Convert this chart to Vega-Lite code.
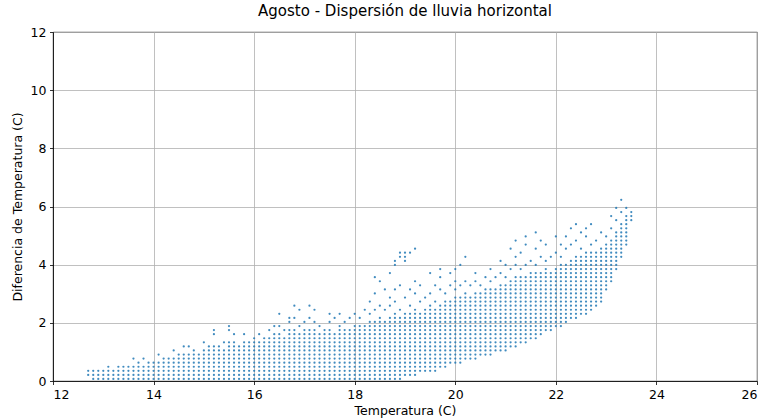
{
"$schema":"https://vega.github.io/schema/vega-lite/v6.json",
"width":704,"height":349,
"autosize":{"type":"none"},
"padding":{"left":53,"top":32,"right":10,"bottom":39},
"background":"white",
"title":{"text":"Agosto - Dispersión de lluvia horizontal","fontSize":15,"fontWeight":"normal","font":"DejaVu Sans","color":"black","offset":7,"anchor":"middle"},
"config":{
"view":{"stroke":"black","strokeWidth":0.8},
"axis":{"domainColor":"black","domainWidth":0.8,"tickColor":"black","tickWidth":0.8,"tickSize":3.5,"labelPadding":3.5,"labelFont":"DejaVu Sans","labelFontSize":12.5,"labelColor":"black","titleFont":"DejaVu Sans","titleFontSize":12.5,"titleFontWeight":"normal","titleColor":"black","grid":true,"gridColor":"#b0b0b0","gridWidth":0.8}
},
"data":{"values":[
{"x":12.7,"y":0.21},{"x":12.7,"y":0.35},
{"x":12.8,"y":0.07},{"x":12.8,"y":0.21},{"x":12.8,"y":0.35},
{"x":12.9,"y":0.07},{"x":12.9,"y":0.21},{"x":12.9,"y":0.35},
{"x":13.0,"y":0.07},{"x":13.0,"y":0.21},{"x":13.0,"y":0.35},
{"x":13.1,"y":0.07},{"x":13.1,"y":0.21},{"x":13.1,"y":0.35},{"x":13.1,"y":0.49},
{"x":13.2,"y":0.07},{"x":13.2,"y":0.21},{"x":13.2,"y":0.35},
{"x":13.3,"y":0.07},{"x":13.3,"y":0.21},{"x":13.3,"y":0.35},{"x":13.3,"y":0.49},
{"x":13.4,"y":0.07},{"x":13.4,"y":0.21},{"x":13.4,"y":0.35},{"x":13.4,"y":0.49},
{"x":13.5,"y":0.07},{"x":13.5,"y":0.21},{"x":13.5,"y":0.35},{"x":13.5,"y":0.49},
{"x":13.6,"y":0.07},{"x":13.6,"y":0.21},{"x":13.6,"y":0.35},{"x":13.6,"y":0.49},{"x":13.6,"y":0.77},
{"x":13.7,"y":0.07},{"x":13.7,"y":0.21},{"x":13.7,"y":0.35},{"x":13.7,"y":0.49},{"x":13.7,"y":0.63},
{"x":13.8,"y":0.07},{"x":13.8,"y":0.21},{"x":13.8,"y":0.35},{"x":13.8,"y":0.49},{"x":13.8,"y":0.77},
{"x":13.9,"y":0.07},{"x":13.9,"y":0.21},{"x":13.9,"y":0.35},{"x":13.9,"y":0.49},{"x":13.9,"y":0.63},
{"x":14.0,"y":0.07},{"x":14.0,"y":0.21},{"x":14.0,"y":0.35},{"x":14.0,"y":0.49},{"x":14.0,"y":0.63},
{"x":14.1,"y":0.07},{"x":14.1,"y":0.21},{"x":14.1,"y":0.35},{"x":14.1,"y":0.49},{"x":14.1,"y":0.63},{"x":14.1,"y":0.91},
{"x":14.2,"y":0.07},{"x":14.2,"y":0.21},{"x":14.2,"y":0.35},{"x":14.2,"y":0.49},{"x":14.2,"y":0.63},{"x":14.2,"y":0.77},
{"x":14.3,"y":0.07},{"x":14.3,"y":0.21},{"x":14.3,"y":0.35},{"x":14.3,"y":0.49},{"x":14.3,"y":0.63},{"x":14.3,"y":0.77},
{"x":14.4,"y":0.07},{"x":14.4,"y":0.21},{"x":14.4,"y":0.35},{"x":14.4,"y":0.49},{"x":14.4,"y":0.63},{"x":14.4,"y":0.77},{"x":14.4,"y":1.05},
{"x":14.5,"y":0.07},{"x":14.5,"y":0.21},{"x":14.5,"y":0.35},{"x":14.5,"y":0.49},{"x":14.5,"y":0.63},{"x":14.5,"y":0.77},{"x":14.5,"y":0.91},
{"x":14.6,"y":0.07},{"x":14.6,"y":0.21},{"x":14.6,"y":0.35},{"x":14.6,"y":0.49},{"x":14.6,"y":0.63},{"x":14.6,"y":0.77},{"x":14.6,"y":0.91},{"x":14.6,"y":1.19},
{"x":14.7,"y":0.07},{"x":14.7,"y":0.21},{"x":14.7,"y":0.35},{"x":14.7,"y":0.49},{"x":14.7,"y":0.63},{"x":14.7,"y":0.77},{"x":14.7,"y":0.91},{"x":14.7,"y":1.19},
{"x":14.8,"y":0.07},{"x":14.8,"y":0.21},{"x":14.8,"y":0.35},{"x":14.8,"y":0.49},{"x":14.8,"y":0.63},{"x":14.8,"y":0.77},{"x":14.8,"y":0.91},{"x":14.8,"y":1.05},
{"x":14.9,"y":0.07},{"x":14.9,"y":0.21},{"x":14.9,"y":0.35},{"x":14.9,"y":0.49},{"x":14.9,"y":0.63},{"x":14.9,"y":0.77},{"x":14.9,"y":0.91},
{"x":15.0,"y":0.07},{"x":15.0,"y":0.21},{"x":15.0,"y":0.35},{"x":15.0,"y":0.49},{"x":15.0,"y":0.63},{"x":15.0,"y":0.77},{"x":15.0,"y":0.91},{"x":15.0,"y":1.05},{"x":15.0,"y":1.33},
{"x":15.1,"y":0.07},{"x":15.1,"y":0.21},{"x":15.1,"y":0.35},{"x":15.1,"y":0.49},{"x":15.1,"y":0.63},{"x":15.1,"y":0.77},{"x":15.1,"y":0.91},{"x":15.1,"y":1.05},{"x":15.1,"y":1.19},
{"x":15.2,"y":0.07},{"x":15.2,"y":0.21},{"x":15.2,"y":0.35},{"x":15.2,"y":0.49},{"x":15.2,"y":0.63},{"x":15.2,"y":0.77},{"x":15.2,"y":0.91},{"x":15.2,"y":1.05},{"x":15.2,"y":1.19},{"x":15.2,"y":1.61},{"x":15.2,"y":1.75},
{"x":15.3,"y":0.07},{"x":15.3,"y":0.21},{"x":15.3,"y":0.35},{"x":15.3,"y":0.49},{"x":15.3,"y":0.63},{"x":15.3,"y":0.77},{"x":15.3,"y":0.91},{"x":15.3,"y":1.05},{"x":15.3,"y":1.19},
{"x":15.4,"y":0.07},{"x":15.4,"y":0.21},{"x":15.4,"y":0.35},{"x":15.4,"y":0.49},{"x":15.4,"y":0.63},{"x":15.4,"y":0.77},{"x":15.4,"y":0.91},{"x":15.4,"y":1.05},{"x":15.4,"y":1.33},
{"x":15.5,"y":0.07},{"x":15.5,"y":0.21},{"x":15.5,"y":0.35},{"x":15.5,"y":0.49},{"x":15.5,"y":0.63},{"x":15.5,"y":0.77},{"x":15.5,"y":0.91},{"x":15.5,"y":1.05},{"x":15.5,"y":1.19},{"x":15.5,"y":1.33},{"x":15.5,"y":1.75},{"x":15.5,"y":1.89},
{"x":15.6,"y":0.07},{"x":15.6,"y":0.21},{"x":15.6,"y":0.35},{"x":15.6,"y":0.49},{"x":15.6,"y":0.63},{"x":15.6,"y":0.77},{"x":15.6,"y":0.91},{"x":15.6,"y":1.05},{"x":15.6,"y":1.19},{"x":15.6,"y":1.33},{"x":15.6,"y":1.61},
{"x":15.7,"y":0.07},{"x":15.7,"y":0.21},{"x":15.7,"y":0.35},{"x":15.7,"y":0.49},{"x":15.7,"y":0.63},{"x":15.7,"y":0.77},{"x":15.7,"y":0.91},{"x":15.7,"y":1.05},{"x":15.7,"y":1.19},
{"x":15.8,"y":0.07},{"x":15.8,"y":0.21},{"x":15.8,"y":0.35},{"x":15.8,"y":0.49},{"x":15.8,"y":0.63},{"x":15.8,"y":0.77},{"x":15.8,"y":0.91},{"x":15.8,"y":1.05},{"x":15.8,"y":1.19},{"x":15.8,"y":1.33},{"x":15.8,"y":1.61},
{"x":15.9,"y":0.07},{"x":15.9,"y":0.21},{"x":15.9,"y":0.35},{"x":15.9,"y":0.49},{"x":15.9,"y":0.63},{"x":15.9,"y":0.77},{"x":15.9,"y":0.91},{"x":15.9,"y":1.05},{"x":15.9,"y":1.19},{"x":15.9,"y":1.33},
{"x":16.0,"y":0.07},{"x":16.0,"y":0.21},{"x":16.0,"y":0.35},{"x":16.0,"y":0.49},{"x":16.0,"y":0.63},{"x":16.0,"y":0.77},{"x":16.0,"y":0.91},{"x":16.0,"y":1.05},{"x":16.0,"y":1.19},{"x":16.0,"y":1.33},{"x":16.0,"y":1.47},
{"x":16.1,"y":0.07},{"x":16.1,"y":0.21},{"x":16.1,"y":0.35},{"x":16.1,"y":0.49},{"x":16.1,"y":0.63},{"x":16.1,"y":0.77},{"x":16.1,"y":0.91},{"x":16.1,"y":1.05},{"x":16.1,"y":1.19},{"x":16.1,"y":1.33},{"x":16.1,"y":1.61},
{"x":16.2,"y":0.07},{"x":16.2,"y":0.21},{"x":16.2,"y":0.35},{"x":16.2,"y":0.49},{"x":16.2,"y":0.63},{"x":16.2,"y":0.77},{"x":16.2,"y":0.91},{"x":16.2,"y":1.05},{"x":16.2,"y":1.19},{"x":16.2,"y":1.33},{"x":16.2,"y":1.47},
{"x":16.3,"y":0.07},{"x":16.3,"y":0.21},{"x":16.3,"y":0.35},{"x":16.3,"y":0.49},{"x":16.3,"y":0.63},{"x":16.3,"y":0.77},{"x":16.3,"y":0.91},{"x":16.3,"y":1.05},{"x":16.3,"y":1.19},{"x":16.3,"y":1.33},{"x":16.3,"y":1.47},{"x":16.3,"y":1.75},
{"x":16.4,"y":0.07},{"x":16.4,"y":0.21},{"x":16.4,"y":0.35},{"x":16.4,"y":0.49},{"x":16.4,"y":0.63},{"x":16.4,"y":0.77},{"x":16.4,"y":0.91},{"x":16.4,"y":1.05},{"x":16.4,"y":1.19},{"x":16.4,"y":1.33},{"x":16.4,"y":1.47},{"x":16.4,"y":1.61},{"x":16.4,"y":1.89},
{"x":16.5,"y":0.07},{"x":16.5,"y":0.21},{"x":16.5,"y":0.35},{"x":16.5,"y":0.49},{"x":16.5,"y":0.63},{"x":16.5,"y":0.77},{"x":16.5,"y":0.91},{"x":16.5,"y":1.05},{"x":16.5,"y":1.19},{"x":16.5,"y":1.33},{"x":16.5,"y":1.47},{"x":16.5,"y":1.61},{"x":16.5,"y":1.89},{"x":16.5,"y":2.31},
{"x":16.6,"y":0.07},{"x":16.6,"y":0.21},{"x":16.6,"y":0.35},{"x":16.6,"y":0.49},{"x":16.6,"y":0.63},{"x":16.6,"y":0.77},{"x":16.6,"y":0.91},{"x":16.6,"y":1.05},{"x":16.6,"y":1.19},{"x":16.6,"y":1.33},{"x":16.6,"y":1.47},{"x":16.6,"y":1.75},
{"x":16.7,"y":0.07},{"x":16.7,"y":0.21},{"x":16.7,"y":0.35},{"x":16.7,"y":0.49},{"x":16.7,"y":0.63},{"x":16.7,"y":0.77},{"x":16.7,"y":0.91},{"x":16.7,"y":1.05},{"x":16.7,"y":1.19},{"x":16.7,"y":1.33},{"x":16.7,"y":1.47},{"x":16.7,"y":1.61},{"x":16.7,"y":1.75},{"x":16.7,"y":2.03},{"x":16.7,"y":2.17},
{"x":16.8,"y":0.07},{"x":16.8,"y":0.21},{"x":16.8,"y":0.35},{"x":16.8,"y":0.49},{"x":16.8,"y":0.63},{"x":16.8,"y":0.77},{"x":16.8,"y":0.91},{"x":16.8,"y":1.05},{"x":16.8,"y":1.19},{"x":16.8,"y":1.33},{"x":16.8,"y":1.47},{"x":16.8,"y":1.61},{"x":16.8,"y":1.75},{"x":16.8,"y":2.17},{"x":16.8,"y":2.59},
{"x":16.9,"y":0.07},{"x":16.9,"y":0.21},{"x":16.9,"y":0.35},{"x":16.9,"y":0.49},{"x":16.9,"y":0.63},{"x":16.9,"y":0.77},{"x":16.9,"y":0.91},{"x":16.9,"y":1.05},{"x":16.9,"y":1.19},{"x":16.9,"y":1.33},{"x":16.9,"y":1.47},{"x":16.9,"y":1.61},{"x":16.9,"y":1.89},{"x":16.9,"y":2.45},
{"x":17.0,"y":0.07},{"x":17.0,"y":0.21},{"x":17.0,"y":0.35},{"x":17.0,"y":0.49},{"x":17.0,"y":0.63},{"x":17.0,"y":0.77},{"x":17.0,"y":0.91},{"x":17.0,"y":1.05},{"x":17.0,"y":1.19},{"x":17.0,"y":1.33},{"x":17.0,"y":1.47},{"x":17.0,"y":1.61},{"x":17.0,"y":1.75},{"x":17.0,"y":2.03},
{"x":17.1,"y":0.07},{"x":17.1,"y":0.21},{"x":17.1,"y":0.35},{"x":17.1,"y":0.49},{"x":17.1,"y":0.63},{"x":17.1,"y":0.77},{"x":17.1,"y":0.91},{"x":17.1,"y":1.05},{"x":17.1,"y":1.19},{"x":17.1,"y":1.33},{"x":17.1,"y":1.47},{"x":17.1,"y":1.61},{"x":17.1,"y":1.75},{"x":17.1,"y":2.17},{"x":17.1,"y":2.59},
{"x":17.2,"y":0.07},{"x":17.2,"y":0.21},{"x":17.2,"y":0.35},{"x":17.2,"y":0.49},{"x":17.2,"y":0.63},{"x":17.2,"y":0.77},{"x":17.2,"y":0.91},{"x":17.2,"y":1.05},{"x":17.2,"y":1.19},{"x":17.2,"y":1.33},{"x":17.2,"y":1.47},{"x":17.2,"y":1.61},{"x":17.2,"y":1.75},{"x":17.2,"y":2.03},{"x":17.2,"y":2.45},
{"x":17.3,"y":0.07},{"x":17.3,"y":0.21},{"x":17.3,"y":0.35},{"x":17.3,"y":0.49},{"x":17.3,"y":0.63},{"x":17.3,"y":0.77},{"x":17.3,"y":0.91},{"x":17.3,"y":1.05},{"x":17.3,"y":1.19},{"x":17.3,"y":1.33},{"x":17.3,"y":1.47},{"x":17.3,"y":1.61},{"x":17.3,"y":1.89},
{"x":17.4,"y":0.07},{"x":17.4,"y":0.21},{"x":17.4,"y":0.35},{"x":17.4,"y":0.49},{"x":17.4,"y":0.63},{"x":17.4,"y":0.77},{"x":17.4,"y":0.91},{"x":17.4,"y":1.05},{"x":17.4,"y":1.19},{"x":17.4,"y":1.33},{"x":17.4,"y":1.47},{"x":17.4,"y":1.61},{"x":17.4,"y":1.75},
{"x":17.5,"y":0.07},{"x":17.5,"y":0.21},{"x":17.5,"y":0.35},{"x":17.5,"y":0.49},{"x":17.5,"y":0.63},{"x":17.5,"y":0.77},{"x":17.5,"y":0.91},{"x":17.5,"y":1.05},{"x":17.5,"y":1.19},{"x":17.5,"y":1.33},{"x":17.5,"y":1.47},{"x":17.5,"y":1.61},{"x":17.5,"y":1.75},{"x":17.5,"y":2.03},{"x":17.5,"y":2.31},
{"x":17.6,"y":0.07},{"x":17.6,"y":0.21},{"x":17.6,"y":0.35},{"x":17.6,"y":0.49},{"x":17.6,"y":0.63},{"x":17.6,"y":0.77},{"x":17.6,"y":0.91},{"x":17.6,"y":1.05},{"x":17.6,"y":1.19},{"x":17.6,"y":1.33},{"x":17.6,"y":1.47},{"x":17.6,"y":1.61},{"x":17.6,"y":2.17},
{"x":17.7,"y":0.07},{"x":17.7,"y":0.21},{"x":17.7,"y":0.35},{"x":17.7,"y":0.49},{"x":17.7,"y":0.63},{"x":17.7,"y":0.77},{"x":17.7,"y":0.91},{"x":17.7,"y":1.05},{"x":17.7,"y":1.19},{"x":17.7,"y":1.33},{"x":17.7,"y":1.47},{"x":17.7,"y":1.61},{"x":17.7,"y":1.75},{"x":17.7,"y":1.89},{"x":17.7,"y":2.31},
{"x":17.8,"y":0.07},{"x":17.8,"y":0.21},{"x":17.8,"y":0.35},{"x":17.8,"y":0.49},{"x":17.8,"y":0.63},{"x":17.8,"y":0.77},{"x":17.8,"y":0.91},{"x":17.8,"y":1.05},{"x":17.8,"y":1.19},{"x":17.8,"y":1.33},{"x":17.8,"y":1.47},{"x":17.8,"y":1.61},{"x":17.8,"y":1.75},{"x":17.8,"y":2.03},
{"x":17.9,"y":0.07},{"x":17.9,"y":0.21},{"x":17.9,"y":0.35},{"x":17.9,"y":0.49},{"x":17.9,"y":0.63},{"x":17.9,"y":0.77},{"x":17.9,"y":0.91},{"x":17.9,"y":1.05},{"x":17.9,"y":1.19},{"x":17.9,"y":1.33},{"x":17.9,"y":1.47},{"x":17.9,"y":1.61},{"x":17.9,"y":1.75},{"x":17.9,"y":2.17},
{"x":18.0,"y":0.07},{"x":18.0,"y":0.21},{"x":18.0,"y":0.35},{"x":18.0,"y":0.49},{"x":18.0,"y":0.63},{"x":18.0,"y":0.77},{"x":18.0,"y":0.91},{"x":18.0,"y":1.05},{"x":18.0,"y":1.19},{"x":18.0,"y":1.33},{"x":18.0,"y":1.47},{"x":18.0,"y":1.61},{"x":18.0,"y":1.75},{"x":18.0,"y":1.89},{"x":18.0,"y":2.31},
{"x":18.1,"y":0.07},{"x":18.1,"y":0.21},{"x":18.1,"y":0.35},{"x":18.1,"y":0.49},{"x":18.1,"y":0.63},{"x":18.1,"y":0.77},{"x":18.1,"y":0.91},{"x":18.1,"y":1.05},{"x":18.1,"y":1.19},{"x":18.1,"y":1.33},{"x":18.1,"y":1.47},{"x":18.1,"y":1.61},{"x":18.1,"y":1.75},{"x":18.1,"y":1.89},{"x":18.1,"y":2.17},
{"x":18.2,"y":0.07},{"x":18.2,"y":0.21},{"x":18.2,"y":0.35},{"x":18.2,"y":0.49},{"x":18.2,"y":0.63},{"x":18.2,"y":0.77},{"x":18.2,"y":0.91},{"x":18.2,"y":1.05},{"x":18.2,"y":1.19},{"x":18.2,"y":1.33},{"x":18.2,"y":1.47},{"x":18.2,"y":1.61},{"x":18.2,"y":1.75},{"x":18.2,"y":1.89},{"x":18.2,"y":2.45},
{"x":18.3,"y":0.07},{"x":18.3,"y":0.21},{"x":18.3,"y":0.35},{"x":18.3,"y":0.49},{"x":18.3,"y":0.63},{"x":18.3,"y":0.77},{"x":18.3,"y":0.91},{"x":18.3,"y":1.05},{"x":18.3,"y":1.19},{"x":18.3,"y":1.33},{"x":18.3,"y":1.47},{"x":18.3,"y":1.61},{"x":18.3,"y":1.75},{"x":18.3,"y":1.89},{"x":18.3,"y":2.03},{"x":18.3,"y":2.31},{"x":18.3,"y":2.73},
{"x":18.4,"y":0.07},{"x":18.4,"y":0.21},{"x":18.4,"y":0.35},{"x":18.4,"y":0.49},{"x":18.4,"y":0.63},{"x":18.4,"y":0.77},{"x":18.4,"y":0.91},{"x":18.4,"y":1.05},{"x":18.4,"y":1.19},{"x":18.4,"y":1.33},{"x":18.4,"y":1.47},{"x":18.4,"y":1.61},{"x":18.4,"y":1.75},{"x":18.4,"y":1.89},{"x":18.4,"y":2.03},{"x":18.4,"y":2.45},{"x":18.4,"y":3.01},{"x":18.4,"y":3.57},
{"x":18.5,"y":0.07},{"x":18.5,"y":0.21},{"x":18.5,"y":0.35},{"x":18.5,"y":0.49},{"x":18.5,"y":0.63},{"x":18.5,"y":0.77},{"x":18.5,"y":0.91},{"x":18.5,"y":1.05},{"x":18.5,"y":1.19},{"x":18.5,"y":1.33},{"x":18.5,"y":1.47},{"x":18.5,"y":1.61},{"x":18.5,"y":1.75},{"x":18.5,"y":1.89},{"x":18.5,"y":2.03},{"x":18.5,"y":2.17},{"x":18.5,"y":2.59},{"x":18.5,"y":3.43},
{"x":18.6,"y":0.07},{"x":18.6,"y":0.21},{"x":18.6,"y":0.35},{"x":18.6,"y":0.49},{"x":18.6,"y":0.63},{"x":18.6,"y":0.77},{"x":18.6,"y":0.91},{"x":18.6,"y":1.05},{"x":18.6,"y":1.19},{"x":18.6,"y":1.33},{"x":18.6,"y":1.47},{"x":18.6,"y":1.61},{"x":18.6,"y":1.75},{"x":18.6,"y":1.89},{"x":18.6,"y":2.03},{"x":18.6,"y":2.45},{"x":18.6,"y":3.15},
{"x":18.7,"y":0.07},{"x":18.7,"y":0.21},{"x":18.7,"y":0.35},{"x":18.7,"y":0.49},{"x":18.7,"y":0.63},{"x":18.7,"y":0.77},{"x":18.7,"y":0.91},{"x":18.7,"y":1.05},{"x":18.7,"y":1.19},{"x":18.7,"y":1.33},{"x":18.7,"y":1.47},{"x":18.7,"y":1.61},{"x":18.7,"y":1.75},{"x":18.7,"y":1.89},{"x":18.7,"y":2.03},{"x":18.7,"y":2.17},{"x":18.7,"y":2.59},{"x":18.7,"y":2.87},{"x":18.7,"y":3.71},
{"x":18.8,"y":0.07},{"x":18.8,"y":0.21},{"x":18.8,"y":0.35},{"x":18.8,"y":0.49},{"x":18.8,"y":0.63},{"x":18.8,"y":0.77},{"x":18.8,"y":0.91},{"x":18.8,"y":1.05},{"x":18.8,"y":1.19},{"x":18.8,"y":1.33},{"x":18.8,"y":1.47},{"x":18.8,"y":1.61},{"x":18.8,"y":1.75},{"x":18.8,"y":1.89},{"x":18.8,"y":2.03},{"x":18.8,"y":2.17},{"x":18.8,"y":2.31},{"x":18.8,"y":2.73},{"x":18.8,"y":3.15},{"x":18.8,"y":3.99},{"x":18.8,"y":4.13},
{"x":18.9,"y":0.07},{"x":18.9,"y":0.21},{"x":18.9,"y":0.35},{"x":18.9,"y":0.49},{"x":18.9,"y":0.63},{"x":18.9,"y":0.77},{"x":18.9,"y":0.91},{"x":18.9,"y":1.05},{"x":18.9,"y":1.19},{"x":18.9,"y":1.33},{"x":18.9,"y":1.47},{"x":18.9,"y":1.61},{"x":18.9,"y":1.75},{"x":18.9,"y":1.89},{"x":18.9,"y":2.03},{"x":18.9,"y":2.17},{"x":18.9,"y":2.45},{"x":18.9,"y":3.29},{"x":18.9,"y":4.27},{"x":18.9,"y":4.41},
{"x":19.0,"y":0.21},{"x":19.0,"y":0.35},{"x":19.0,"y":0.49},{"x":19.0,"y":0.63},{"x":19.0,"y":0.77},{"x":19.0,"y":0.91},{"x":19.0,"y":1.05},{"x":19.0,"y":1.19},{"x":19.0,"y":1.33},{"x":19.0,"y":1.47},{"x":19.0,"y":1.61},{"x":19.0,"y":1.75},{"x":19.0,"y":1.89},{"x":19.0,"y":2.03},{"x":19.0,"y":2.17},{"x":19.0,"y":2.31},{"x":19.0,"y":2.87},{"x":19.0,"y":4.13},{"x":19.0,"y":4.27},{"x":19.0,"y":4.41},
{"x":19.1,"y":0.21},{"x":19.1,"y":0.35},{"x":19.1,"y":0.49},{"x":19.1,"y":0.63},{"x":19.1,"y":0.77},{"x":19.1,"y":0.91},{"x":19.1,"y":1.05},{"x":19.1,"y":1.19},{"x":19.1,"y":1.33},{"x":19.1,"y":1.47},{"x":19.1,"y":1.61},{"x":19.1,"y":1.75},{"x":19.1,"y":1.89},{"x":19.1,"y":2.03},{"x":19.1,"y":2.17},{"x":19.1,"y":2.31},{"x":19.1,"y":2.59},{"x":19.1,"y":3.15},{"x":19.1,"y":4.41},
{"x":19.2,"y":0.21},{"x":19.2,"y":0.35},{"x":19.2,"y":0.49},{"x":19.2,"y":0.63},{"x":19.2,"y":0.77},{"x":19.2,"y":0.91},{"x":19.2,"y":1.05},{"x":19.2,"y":1.19},{"x":19.2,"y":1.33},{"x":19.2,"y":1.47},{"x":19.2,"y":1.61},{"x":19.2,"y":1.75},{"x":19.2,"y":1.89},{"x":19.2,"y":2.03},{"x":19.2,"y":2.17},{"x":19.2,"y":2.31},{"x":19.2,"y":2.45},{"x":19.2,"y":3.01},{"x":19.2,"y":3.43},{"x":19.2,"y":4.55},
{"x":19.3,"y":0.35},{"x":19.3,"y":0.49},{"x":19.3,"y":0.63},{"x":19.3,"y":0.77},{"x":19.3,"y":0.91},{"x":19.3,"y":1.05},{"x":19.3,"y":1.19},{"x":19.3,"y":1.33},{"x":19.3,"y":1.47},{"x":19.3,"y":1.61},{"x":19.3,"y":1.75},{"x":19.3,"y":1.89},{"x":19.3,"y":2.03},{"x":19.3,"y":2.17},{"x":19.3,"y":2.31},{"x":19.3,"y":2.73},{"x":19.3,"y":3.29},
{"x":19.4,"y":0.35},{"x":19.4,"y":0.49},{"x":19.4,"y":0.63},{"x":19.4,"y":0.77},{"x":19.4,"y":0.91},{"x":19.4,"y":1.05},{"x":19.4,"y":1.19},{"x":19.4,"y":1.33},{"x":19.4,"y":1.47},{"x":19.4,"y":1.61},{"x":19.4,"y":1.75},{"x":19.4,"y":1.89},{"x":19.4,"y":2.03},{"x":19.4,"y":2.17},{"x":19.4,"y":2.31},{"x":19.4,"y":2.45},{"x":19.4,"y":2.87},
{"x":19.5,"y":0.35},{"x":19.5,"y":0.49},{"x":19.5,"y":0.63},{"x":19.5,"y":0.77},{"x":19.5,"y":0.91},{"x":19.5,"y":1.05},{"x":19.5,"y":1.19},{"x":19.5,"y":1.33},{"x":19.5,"y":1.47},{"x":19.5,"y":1.61},{"x":19.5,"y":1.75},{"x":19.5,"y":1.89},{"x":19.5,"y":2.03},{"x":19.5,"y":2.17},{"x":19.5,"y":2.31},{"x":19.5,"y":2.45},{"x":19.5,"y":2.59},{"x":19.5,"y":3.01},{"x":19.5,"y":3.71},
{"x":19.6,"y":0.35},{"x":19.6,"y":0.49},{"x":19.6,"y":0.63},{"x":19.6,"y":0.77},{"x":19.6,"y":0.91},{"x":19.6,"y":1.05},{"x":19.6,"y":1.19},{"x":19.6,"y":1.33},{"x":19.6,"y":1.47},{"x":19.6,"y":1.61},{"x":19.6,"y":1.75},{"x":19.6,"y":1.89},{"x":19.6,"y":2.03},{"x":19.6,"y":2.17},{"x":19.6,"y":2.31},{"x":19.6,"y":2.45},{"x":19.6,"y":2.73},{"x":19.6,"y":3.29},
{"x":19.7,"y":0.49},{"x":19.7,"y":0.63},{"x":19.7,"y":0.77},{"x":19.7,"y":0.91},{"x":19.7,"y":1.05},{"x":19.7,"y":1.19},{"x":19.7,"y":1.33},{"x":19.7,"y":1.47},{"x":19.7,"y":1.61},{"x":19.7,"y":1.75},{"x":19.7,"y":1.89},{"x":19.7,"y":2.03},{"x":19.7,"y":2.17},{"x":19.7,"y":2.31},{"x":19.7,"y":2.45},{"x":19.7,"y":2.59},{"x":19.7,"y":3.15},{"x":19.7,"y":3.57},{"x":19.7,"y":3.85},
{"x":19.8,"y":0.49},{"x":19.8,"y":0.63},{"x":19.8,"y":0.77},{"x":19.8,"y":0.91},{"x":19.8,"y":1.05},{"x":19.8,"y":1.19},{"x":19.8,"y":1.33},{"x":19.8,"y":1.47},{"x":19.8,"y":1.61},{"x":19.8,"y":1.75},{"x":19.8,"y":1.89},{"x":19.8,"y":2.03},{"x":19.8,"y":2.17},{"x":19.8,"y":2.31},{"x":19.8,"y":2.45},{"x":19.8,"y":2.59},{"x":19.8,"y":2.73},{"x":19.8,"y":3.01},
{"x":19.9,"y":0.63},{"x":19.9,"y":0.77},{"x":19.9,"y":0.91},{"x":19.9,"y":1.05},{"x":19.9,"y":1.19},{"x":19.9,"y":1.33},{"x":19.9,"y":1.47},{"x":19.9,"y":1.61},{"x":19.9,"y":1.75},{"x":19.9,"y":1.89},{"x":19.9,"y":2.03},{"x":19.9,"y":2.17},{"x":19.9,"y":2.31},{"x":19.9,"y":2.45},{"x":19.9,"y":2.59},{"x":19.9,"y":2.73},{"x":19.9,"y":3.29},{"x":19.9,"y":3.71},
{"x":20.0,"y":0.63},{"x":20.0,"y":0.77},{"x":20.0,"y":0.91},{"x":20.0,"y":1.05},{"x":20.0,"y":1.19},{"x":20.0,"y":1.33},{"x":20.0,"y":1.47},{"x":20.0,"y":1.61},{"x":20.0,"y":1.75},{"x":20.0,"y":1.89},{"x":20.0,"y":2.03},{"x":20.0,"y":2.17},{"x":20.0,"y":2.31},{"x":20.0,"y":2.45},{"x":20.0,"y":2.59},{"x":20.0,"y":2.73},{"x":20.0,"y":2.87},{"x":20.0,"y":3.15},{"x":20.0,"y":3.43},{"x":20.0,"y":3.85},
{"x":20.1,"y":0.63},{"x":20.1,"y":0.77},{"x":20.1,"y":0.91},{"x":20.1,"y":1.05},{"x":20.1,"y":1.19},{"x":20.1,"y":1.33},{"x":20.1,"y":1.47},{"x":20.1,"y":1.61},{"x":20.1,"y":1.75},{"x":20.1,"y":1.89},{"x":20.1,"y":2.03},{"x":20.1,"y":2.17},{"x":20.1,"y":2.31},{"x":20.1,"y":2.45},{"x":20.1,"y":2.59},{"x":20.1,"y":2.73},{"x":20.1,"y":2.87},{"x":20.1,"y":3.29},{"x":20.1,"y":3.99},
{"x":20.2,"y":0.77},{"x":20.2,"y":0.91},{"x":20.2,"y":1.05},{"x":20.2,"y":1.19},{"x":20.2,"y":1.33},{"x":20.2,"y":1.47},{"x":20.2,"y":1.61},{"x":20.2,"y":1.75},{"x":20.2,"y":1.89},{"x":20.2,"y":2.03},{"x":20.2,"y":2.17},{"x":20.2,"y":2.31},{"x":20.2,"y":2.45},{"x":20.2,"y":2.59},{"x":20.2,"y":2.73},{"x":20.2,"y":2.87},{"x":20.2,"y":3.01},{"x":20.2,"y":3.43},{"x":20.2,"y":4.27},
{"x":20.3,"y":0.77},{"x":20.3,"y":0.91},{"x":20.3,"y":1.05},{"x":20.3,"y":1.19},{"x":20.3,"y":1.33},{"x":20.3,"y":1.47},{"x":20.3,"y":1.61},{"x":20.3,"y":1.75},{"x":20.3,"y":1.89},{"x":20.3,"y":2.03},{"x":20.3,"y":2.17},{"x":20.3,"y":2.31},{"x":20.3,"y":2.45},{"x":20.3,"y":2.59},{"x":20.3,"y":2.73},{"x":20.3,"y":2.87},{"x":20.3,"y":3.29},
{"x":20.4,"y":0.77},{"x":20.4,"y":0.91},{"x":20.4,"y":1.05},{"x":20.4,"y":1.19},{"x":20.4,"y":1.33},{"x":20.4,"y":1.47},{"x":20.4,"y":1.61},{"x":20.4,"y":1.75},{"x":20.4,"y":1.89},{"x":20.4,"y":2.03},{"x":20.4,"y":2.17},{"x":20.4,"y":2.31},{"x":20.4,"y":2.45},{"x":20.4,"y":2.59},{"x":20.4,"y":2.73},{"x":20.4,"y":2.87},{"x":20.4,"y":3.01},{"x":20.4,"y":3.43},{"x":20.4,"y":3.71},
{"x":20.5,"y":0.91},{"x":20.5,"y":1.05},{"x":20.5,"y":1.19},{"x":20.5,"y":1.33},{"x":20.5,"y":1.47},{"x":20.5,"y":1.61},{"x":20.5,"y":1.75},{"x":20.5,"y":1.89},{"x":20.5,"y":2.03},{"x":20.5,"y":2.17},{"x":20.5,"y":2.31},{"x":20.5,"y":2.45},{"x":20.5,"y":2.59},{"x":20.5,"y":2.73},{"x":20.5,"y":2.87},{"x":20.5,"y":3.01},{"x":20.5,"y":3.29},
{"x":20.6,"y":0.91},{"x":20.6,"y":1.05},{"x":20.6,"y":1.19},{"x":20.6,"y":1.33},{"x":20.6,"y":1.47},{"x":20.6,"y":1.61},{"x":20.6,"y":1.75},{"x":20.6,"y":1.89},{"x":20.6,"y":2.03},{"x":20.6,"y":2.17},{"x":20.6,"y":2.31},{"x":20.6,"y":2.45},{"x":20.6,"y":2.59},{"x":20.6,"y":2.73},{"x":20.6,"y":2.87},{"x":20.6,"y":3.01},{"x":20.6,"y":3.15},{"x":20.6,"y":3.57},
{"x":20.7,"y":0.91},{"x":20.7,"y":1.05},{"x":20.7,"y":1.19},{"x":20.7,"y":1.33},{"x":20.7,"y":1.47},{"x":20.7,"y":1.61},{"x":20.7,"y":1.75},{"x":20.7,"y":1.89},{"x":20.7,"y":2.03},{"x":20.7,"y":2.17},{"x":20.7,"y":2.31},{"x":20.7,"y":2.45},{"x":20.7,"y":2.59},{"x":20.7,"y":2.73},{"x":20.7,"y":2.87},{"x":20.7,"y":3.01},{"x":20.7,"y":3.15},{"x":20.7,"y":3.43},{"x":20.7,"y":3.85},
{"x":20.8,"y":1.05},{"x":20.8,"y":1.19},{"x":20.8,"y":1.33},{"x":20.8,"y":1.47},{"x":20.8,"y":1.61},{"x":20.8,"y":1.75},{"x":20.8,"y":1.89},{"x":20.8,"y":2.03},{"x":20.8,"y":2.17},{"x":20.8,"y":2.31},{"x":20.8,"y":2.45},{"x":20.8,"y":2.59},{"x":20.8,"y":2.73},{"x":20.8,"y":2.87},{"x":20.8,"y":3.01},{"x":20.8,"y":3.15},{"x":20.8,"y":3.57},
{"x":20.9,"y":1.05},{"x":20.9,"y":1.19},{"x":20.9,"y":1.33},{"x":20.9,"y":1.47},{"x":20.9,"y":1.61},{"x":20.9,"y":1.75},{"x":20.9,"y":1.89},{"x":20.9,"y":2.03},{"x":20.9,"y":2.17},{"x":20.9,"y":2.31},{"x":20.9,"y":2.45},{"x":20.9,"y":2.59},{"x":20.9,"y":2.73},{"x":20.9,"y":2.87},{"x":20.9,"y":3.01},{"x":20.9,"y":3.15},{"x":20.9,"y":3.29},{"x":20.9,"y":3.71},{"x":20.9,"y":4.13},
{"x":21.0,"y":1.05},{"x":21.0,"y":1.19},{"x":21.0,"y":1.33},{"x":21.0,"y":1.47},{"x":21.0,"y":1.61},{"x":21.0,"y":1.75},{"x":21.0,"y":1.89},{"x":21.0,"y":2.03},{"x":21.0,"y":2.17},{"x":21.0,"y":2.31},{"x":21.0,"y":2.45},{"x":21.0,"y":2.59},{"x":21.0,"y":2.73},{"x":21.0,"y":2.87},{"x":21.0,"y":3.01},{"x":21.0,"y":3.15},{"x":21.0,"y":3.29},{"x":21.0,"y":3.57},{"x":21.0,"y":3.99},
{"x":21.1,"y":1.19},{"x":21.1,"y":1.33},{"x":21.1,"y":1.47},{"x":21.1,"y":1.61},{"x":21.1,"y":1.75},{"x":21.1,"y":1.89},{"x":21.1,"y":2.03},{"x":21.1,"y":2.17},{"x":21.1,"y":2.31},{"x":21.1,"y":2.45},{"x":21.1,"y":2.59},{"x":21.1,"y":2.73},{"x":21.1,"y":2.87},{"x":21.1,"y":3.01},{"x":21.1,"y":3.15},{"x":21.1,"y":3.29},{"x":21.1,"y":3.43},{"x":21.1,"y":3.85},{"x":21.1,"y":4.55},
{"x":21.2,"y":1.19},{"x":21.2,"y":1.33},{"x":21.2,"y":1.47},{"x":21.2,"y":1.61},{"x":21.2,"y":1.75},{"x":21.2,"y":1.89},{"x":21.2,"y":2.03},{"x":21.2,"y":2.17},{"x":21.2,"y":2.31},{"x":21.2,"y":2.45},{"x":21.2,"y":2.59},{"x":21.2,"y":2.73},{"x":21.2,"y":2.87},{"x":21.2,"y":3.01},{"x":21.2,"y":3.15},{"x":21.2,"y":3.29},{"x":21.2,"y":3.43},{"x":21.2,"y":3.57},{"x":21.2,"y":3.99},{"x":21.2,"y":4.27},{"x":21.2,"y":4.83},
{"x":21.3,"y":1.33},{"x":21.3,"y":1.47},{"x":21.3,"y":1.61},{"x":21.3,"y":1.75},{"x":21.3,"y":1.89},{"x":21.3,"y":2.03},{"x":21.3,"y":2.17},{"x":21.3,"y":2.31},{"x":21.3,"y":2.45},{"x":21.3,"y":2.59},{"x":21.3,"y":2.73},{"x":21.3,"y":2.87},{"x":21.3,"y":3.01},{"x":21.3,"y":3.15},{"x":21.3,"y":3.29},{"x":21.3,"y":3.43},{"x":21.3,"y":3.57},{"x":21.3,"y":3.85},{"x":21.3,"y":4.41},
{"x":21.4,"y":1.33},{"x":21.4,"y":1.47},{"x":21.4,"y":1.61},{"x":21.4,"y":1.75},{"x":21.4,"y":1.89},{"x":21.4,"y":2.03},{"x":21.4,"y":2.17},{"x":21.4,"y":2.31},{"x":21.4,"y":2.45},{"x":21.4,"y":2.59},{"x":21.4,"y":2.73},{"x":21.4,"y":2.87},{"x":21.4,"y":3.01},{"x":21.4,"y":3.15},{"x":21.4,"y":3.29},{"x":21.4,"y":3.43},{"x":21.4,"y":3.57},{"x":21.4,"y":3.99},{"x":21.4,"y":4.69},{"x":21.4,"y":4.97},
{"x":21.5,"y":1.47},{"x":21.5,"y":1.61},{"x":21.5,"y":1.75},{"x":21.5,"y":1.89},{"x":21.5,"y":2.03},{"x":21.5,"y":2.17},{"x":21.5,"y":2.31},{"x":21.5,"y":2.45},{"x":21.5,"y":2.59},{"x":21.5,"y":2.73},{"x":21.5,"y":2.87},{"x":21.5,"y":3.01},{"x":21.5,"y":3.15},{"x":21.5,"y":3.29},{"x":21.5,"y":3.43},{"x":21.5,"y":3.57},{"x":21.5,"y":3.71},{"x":21.5,"y":4.13},
{"x":21.6,"y":1.47},{"x":21.6,"y":1.61},{"x":21.6,"y":1.75},{"x":21.6,"y":1.89},{"x":21.6,"y":2.03},{"x":21.6,"y":2.17},{"x":21.6,"y":2.31},{"x":21.6,"y":2.45},{"x":21.6,"y":2.59},{"x":21.6,"y":2.73},{"x":21.6,"y":2.87},{"x":21.6,"y":3.01},{"x":21.6,"y":3.15},{"x":21.6,"y":3.29},{"x":21.6,"y":3.43},{"x":21.6,"y":3.57},{"x":21.6,"y":3.71},{"x":21.6,"y":3.99},{"x":21.6,"y":4.55},{"x":21.6,"y":5.11},
{"x":21.7,"y":1.61},{"x":21.7,"y":1.75},{"x":21.7,"y":1.89},{"x":21.7,"y":2.03},{"x":21.7,"y":2.17},{"x":21.7,"y":2.31},{"x":21.7,"y":2.45},{"x":21.7,"y":2.59},{"x":21.7,"y":2.73},{"x":21.7,"y":2.87},{"x":21.7,"y":3.01},{"x":21.7,"y":3.15},{"x":21.7,"y":3.29},{"x":21.7,"y":3.43},{"x":21.7,"y":3.57},{"x":21.7,"y":3.71},{"x":21.7,"y":4.27},{"x":21.7,"y":4.83},
{"x":21.8,"y":1.75},{"x":21.8,"y":1.89},{"x":21.8,"y":2.03},{"x":21.8,"y":2.17},{"x":21.8,"y":2.31},{"x":21.8,"y":2.45},{"x":21.8,"y":2.59},{"x":21.8,"y":2.73},{"x":21.8,"y":2.87},{"x":21.8,"y":3.01},{"x":21.8,"y":3.15},{"x":21.8,"y":3.29},{"x":21.8,"y":3.43},{"x":21.8,"y":3.57},{"x":21.8,"y":3.71},{"x":21.8,"y":3.85},{"x":21.8,"y":4.13},{"x":21.8,"y":4.69},
{"x":21.9,"y":1.75},{"x":21.9,"y":1.89},{"x":21.9,"y":2.03},{"x":21.9,"y":2.17},{"x":21.9,"y":2.31},{"x":21.9,"y":2.45},{"x":21.9,"y":2.59},{"x":21.9,"y":2.73},{"x":21.9,"y":2.87},{"x":21.9,"y":3.01},{"x":21.9,"y":3.15},{"x":21.9,"y":3.29},{"x":21.9,"y":3.43},{"x":21.9,"y":3.57},{"x":21.9,"y":3.71},{"x":21.9,"y":4.27},
{"x":22.0,"y":1.89},{"x":22.0,"y":2.03},{"x":22.0,"y":2.17},{"x":22.0,"y":2.31},{"x":22.0,"y":2.45},{"x":22.0,"y":2.59},{"x":22.0,"y":2.73},{"x":22.0,"y":2.87},{"x":22.0,"y":3.01},{"x":22.0,"y":3.15},{"x":22.0,"y":3.29},{"x":22.0,"y":3.43},{"x":22.0,"y":3.57},{"x":22.0,"y":3.71},{"x":22.0,"y":3.85},{"x":22.0,"y":4.41},{"x":22.0,"y":4.97},
{"x":22.1,"y":1.89},{"x":22.1,"y":2.03},{"x":22.1,"y":2.17},{"x":22.1,"y":2.31},{"x":22.1,"y":2.45},{"x":22.1,"y":2.59},{"x":22.1,"y":2.73},{"x":22.1,"y":2.87},{"x":22.1,"y":3.01},{"x":22.1,"y":3.15},{"x":22.1,"y":3.29},{"x":22.1,"y":3.43},{"x":22.1,"y":3.57},{"x":22.1,"y":3.71},{"x":22.1,"y":3.85},{"x":22.1,"y":3.99},{"x":22.1,"y":4.27},{"x":22.1,"y":4.69},
{"x":22.2,"y":2.03},{"x":22.2,"y":2.17},{"x":22.2,"y":2.31},{"x":22.2,"y":2.45},{"x":22.2,"y":2.59},{"x":22.2,"y":2.73},{"x":22.2,"y":2.87},{"x":22.2,"y":3.01},{"x":22.2,"y":3.15},{"x":22.2,"y":3.29},{"x":22.2,"y":3.43},{"x":22.2,"y":3.57},{"x":22.2,"y":3.71},{"x":22.2,"y":3.85},{"x":22.2,"y":3.99},{"x":22.2,"y":4.55},{"x":22.2,"y":4.97},
{"x":22.3,"y":2.17},{"x":22.3,"y":2.31},{"x":22.3,"y":2.45},{"x":22.3,"y":2.59},{"x":22.3,"y":2.73},{"x":22.3,"y":2.87},{"x":22.3,"y":3.01},{"x":22.3,"y":3.15},{"x":22.3,"y":3.29},{"x":22.3,"y":3.43},{"x":22.3,"y":3.57},{"x":22.3,"y":3.71},{"x":22.3,"y":3.85},{"x":22.3,"y":3.99},{"x":22.3,"y":4.13},{"x":22.3,"y":4.69},{"x":22.3,"y":5.25},
{"x":22.4,"y":2.17},{"x":22.4,"y":2.31},{"x":22.4,"y":2.45},{"x":22.4,"y":2.59},{"x":22.4,"y":2.73},{"x":22.4,"y":2.87},{"x":22.4,"y":3.01},{"x":22.4,"y":3.15},{"x":22.4,"y":3.29},{"x":22.4,"y":3.43},{"x":22.4,"y":3.57},{"x":22.4,"y":3.71},{"x":22.4,"y":3.85},{"x":22.4,"y":3.99},{"x":22.4,"y":4.13},{"x":22.4,"y":4.27},{"x":22.4,"y":4.83},{"x":22.4,"y":5.39},
{"x":22.5,"y":2.31},{"x":22.5,"y":2.45},{"x":22.5,"y":2.59},{"x":22.5,"y":2.73},{"x":22.5,"y":2.87},{"x":22.5,"y":3.01},{"x":22.5,"y":3.15},{"x":22.5,"y":3.29},{"x":22.5,"y":3.43},{"x":22.5,"y":3.57},{"x":22.5,"y":3.71},{"x":22.5,"y":3.85},{"x":22.5,"y":3.99},{"x":22.5,"y":4.13},{"x":22.5,"y":4.27},{"x":22.5,"y":4.55},{"x":22.5,"y":5.11},
{"x":22.6,"y":2.31},{"x":22.6,"y":2.45},{"x":22.6,"y":2.59},{"x":22.6,"y":2.73},{"x":22.6,"y":2.87},{"x":22.6,"y":3.01},{"x":22.6,"y":3.15},{"x":22.6,"y":3.29},{"x":22.6,"y":3.43},{"x":22.6,"y":3.57},{"x":22.6,"y":3.71},{"x":22.6,"y":3.85},{"x":22.6,"y":3.99},{"x":22.6,"y":4.13},{"x":22.6,"y":4.27},{"x":22.6,"y":4.41},{"x":22.6,"y":4.97},{"x":22.6,"y":5.25},
{"x":22.7,"y":2.45},{"x":22.7,"y":2.59},{"x":22.7,"y":2.73},{"x":22.7,"y":2.87},{"x":22.7,"y":3.01},{"x":22.7,"y":3.15},{"x":22.7,"y":3.29},{"x":22.7,"y":3.43},{"x":22.7,"y":3.57},{"x":22.7,"y":3.71},{"x":22.7,"y":3.85},{"x":22.7,"y":3.99},{"x":22.7,"y":4.13},{"x":22.7,"y":4.27},{"x":22.7,"y":4.41},{"x":22.7,"y":4.69},{"x":22.7,"y":5.39},
{"x":22.8,"y":2.59},{"x":22.8,"y":2.73},{"x":22.8,"y":2.87},{"x":22.8,"y":3.01},{"x":22.8,"y":3.15},{"x":22.8,"y":3.29},{"x":22.8,"y":3.43},{"x":22.8,"y":3.57},{"x":22.8,"y":3.71},{"x":22.8,"y":3.85},{"x":22.8,"y":3.99},{"x":22.8,"y":4.13},{"x":22.8,"y":4.27},{"x":22.8,"y":4.41},{"x":22.8,"y":4.83},
{"x":22.9,"y":2.73},{"x":22.9,"y":2.87},{"x":22.9,"y":3.01},{"x":22.9,"y":3.15},{"x":22.9,"y":3.29},{"x":22.9,"y":3.43},{"x":22.9,"y":3.57},{"x":22.9,"y":3.71},{"x":22.9,"y":3.85},{"x":22.9,"y":3.99},{"x":22.9,"y":4.13},{"x":22.9,"y":4.27},{"x":22.9,"y":4.41},{"x":22.9,"y":4.55},{"x":22.9,"y":5.11},
{"x":23.0,"y":3.15},{"x":23.0,"y":3.29},{"x":23.0,"y":3.43},{"x":23.0,"y":3.57},{"x":23.0,"y":3.71},{"x":23.0,"y":3.85},{"x":23.0,"y":3.99},{"x":23.0,"y":4.13},{"x":23.0,"y":4.27},{"x":23.0,"y":4.41},{"x":23.0,"y":4.55},{"x":23.0,"y":4.69},{"x":23.0,"y":4.97},
{"x":23.1,"y":3.43},{"x":23.1,"y":3.57},{"x":23.1,"y":3.71},{"x":23.1,"y":3.85},{"x":23.1,"y":3.99},{"x":23.1,"y":4.13},{"x":23.1,"y":4.27},{"x":23.1,"y":4.41},{"x":23.1,"y":4.55},{"x":23.1,"y":4.69},{"x":23.1,"y":4.83},{"x":23.1,"y":5.25},{"x":23.1,"y":5.67},
{"x":23.2,"y":3.85},{"x":23.2,"y":3.99},{"x":23.2,"y":4.13},{"x":23.2,"y":4.27},{"x":23.2,"y":4.41},{"x":23.2,"y":4.55},{"x":23.2,"y":4.69},{"x":23.2,"y":4.83},{"x":23.2,"y":4.97},{"x":23.2,"y":5.11},{"x":23.2,"y":5.53},{"x":23.2,"y":5.95},
{"x":23.3,"y":4.27},{"x":23.3,"y":4.41},{"x":23.3,"y":4.55},{"x":23.3,"y":4.69},{"x":23.3,"y":4.83},{"x":23.3,"y":4.97},{"x":23.3,"y":5.11},{"x":23.3,"y":5.25},{"x":23.3,"y":5.39},{"x":23.3,"y":5.81},{"x":23.3,"y":6.23},
{"x":23.4,"y":4.69},{"x":23.4,"y":4.83},{"x":23.4,"y":4.97},{"x":23.4,"y":5.11},{"x":23.4,"y":5.25},{"x":23.4,"y":5.39},{"x":23.4,"y":5.53},{"x":23.4,"y":5.67},{"x":23.4,"y":5.95},
{"x":23.5,"y":5.53},{"x":23.5,"y":5.67},{"x":23.5,"y":5.81}
]},
"mark":{"type":"circle","size":5,"color":"#1f77b4","opacity":0.85},
"encoding":{
"x":{"field":"x","type":"quantitative","scale":{"domain":[12,26],"nice":false,"zero":false},"axis":{"title":"Temperatura (C)","values":[12,14,16,18,20,22,24,26],"titlePadding":4}},
"y":{"field":"y","type":"quantitative","scale":{"domain":[0,12],"nice":false},"axis":{"title":"Diferencia de Temperatura (C)","values":[0,2,4,6,8,10,12],"titlePadding":6}}
}
}
